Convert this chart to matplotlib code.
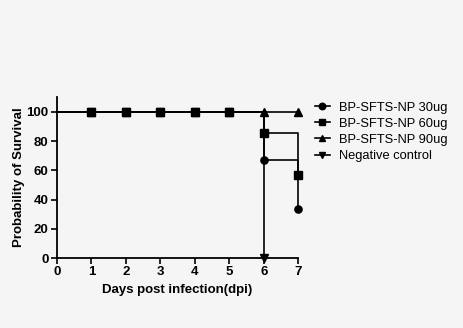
import numpy as np
import matplotlib
matplotlib.use('Agg')
import matplotlib.pyplot as plt

plt.rcParams['font.family'] = ['Liberation Sans', 'DejaVu Sans']

days = [0, 1, 2, 3, 4, 5, 6, 7]
surv_30 = [100, 100, 100, 100, 100, 100, 66.7, 33.3]
surv_60 = [100, 100, 100, 100, 100, 100, 85.7, 57.1]
surv_90 = [100, 100, 100, 100, 100, 100, 100, 100]
neg_days = [0, 1, 2, 3, 4, 5, 6]
surv_neg = [100, 100, 100, 100, 100, 100, 0]

groups = ['BP-SFTS-NP 30ug', 'BP-SFTS-NP 60ug', 'BP-SFTS-NP 90ug', 'Negative control']
markers = ['o', 's', '^', 'v']

bg = '#f5f5f5'
fig = plt.figure(figsize=(4.63, 3.28), dpi=100, facecolor=bg)
ax = fig.add_axes([0.123, 0.213, 0.521, 0.491], facecolor=bg)

series = [(days, surv_30), (days, surv_60), (days, surv_90), (neg_days, surv_neg)]
for (x, y), m, lab in zip(series, markers, groups):
    ax.plot(x, y, color='black', lw=1.2, drawstyle='steps-post',
            marker=m, markersize=5.2, markevery=list(range(1, len(x))),
            label=lab, clip_on=False, zorder=3)

ax.set_xlim(0, 7)
ax.set_ylim(0, 110)
ax.set_xticks(range(8))
ax.set_yticks([0, 20, 40, 60, 80, 100])
for s in ['top', 'right']:
    ax.spines[s].set_visible(False)
for s in ['left', 'bottom']:
    ax.spines[s].set_linewidth(1.3)
ax.tick_params(direction='out', length=4, width=1.2, pad=2, labelsize=9.5)
for t in ax.get_xticklabels() + ax.get_yticklabels():
    t.set_fontweight('bold')
ax.set_xlabel('Days post infection(dpi)', fontsize=9.5, fontweight='bold', labelpad=4)
ax.set_ylabel('Probability of Survival', fontsize=9.5, fontweight='bold', labelpad=1)

leg = ax.legend(loc='upper left', bbox_to_anchor=(1.02, 1.045), frameon=False,
                fontsize=9.3, handlelength=1.2, handletextpad=0.7, labelspacing=0.32,
                markerscale=0.9)

fig.savefig('out.png', dpi=100, facecolor=bg)
